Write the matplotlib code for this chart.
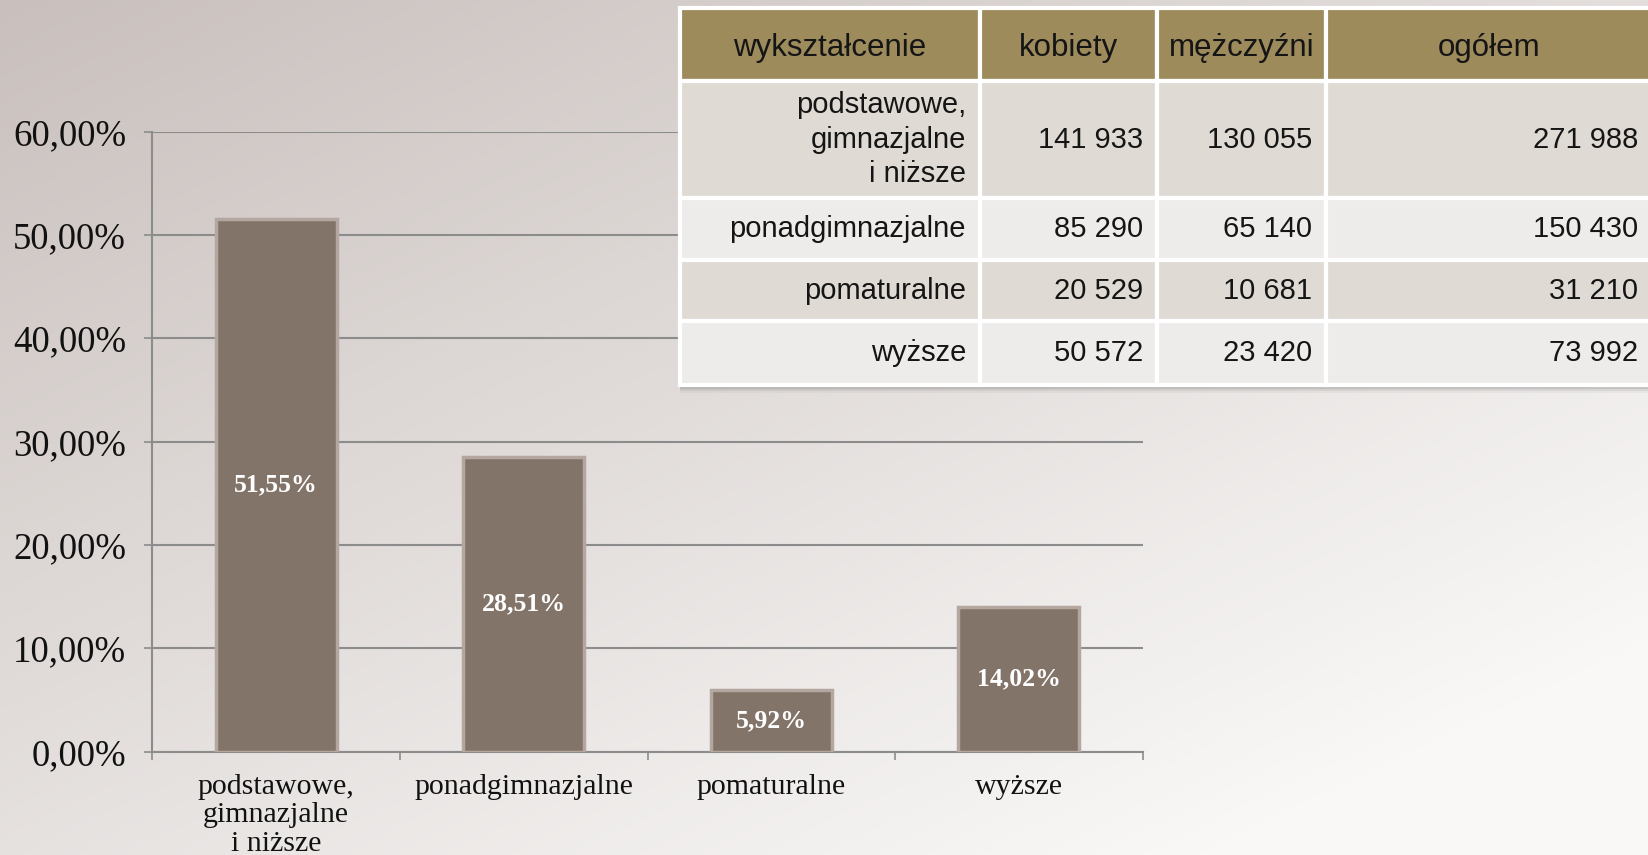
import numpy as np
import matplotlib
matplotlib.use("Agg")
import matplotlib.pyplot as plt
from matplotlib.patches import Rectangle

# chart data
categories = ["podstawowe,\ngimnazjalne\ni niższe", "ponadgimnazjalne", "pomaturalne", "wyższe"]
shares = [51.55, 28.51, 5.92, 14.02]
yticks = [0, 10, 20, 30, 40, 50, 60]

# table data
col_labels = ["wykształcenie", "kobiety", "mężczyźni", "ogółem"]
row_labels = ["podstawowe,\ngimnazjalne\ni niższe", "ponadgimnazjalne", "pomaturalne", "wyższe"]
women = ["141 933", "85 290", "20 529", "50 572"]
men = ["130 055", "65 140", "10 681", "23 420"]
total = ["271 988", "150 430", "31 210", "73 992"]

W, H = 1648, 855
fig = plt.figure(figsize=(W / 100, H / 100), dpi=100)

# background gradient (darker top-left -> light bottom-right)
bg = fig.add_axes([0, 0, 1, 1], zorder=-10)
gx, gy = np.meshgrid(np.linspace(0, 1, 300), np.linspace(0, 1, 200))
t = np.clip(0.55 * gx + 0.6 * gy, 0, 1)
c0 = np.array([201, 192, 189]) / 255
c1 = np.array([249, 248, 247]) / 255
img = c0[None, None, :] * (1 - t[..., None]) + c1[None, None, :] * t[..., None]
bg.imshow(img, aspect="auto", extent=[0, 1, 0, 1], origin="upper")
bg.axis("off")

# bar chart
serif = "Liberation Serif"
ax = fig.add_axes([152.4 / W, 103.5 / H, 990.2 / W, 619.8 / H])
ax.set_facecolor("none")
x = np.arange(len(categories))
bars = ax.bar(x, shares, width=0.49, color="#837469", edgecolor="#b4a79f",
              linewidth=2.5, zorder=3)
for b, v in zip(bars, shares):
    ax.text(b.get_x() + b.get_width() / 2, v / 2, f"{v:.2f}%".replace(".", ","),
            ha="center", va="center", color="white", fontsize=18.5,
            fontweight="bold", family=serif, zorder=4)

ax.set_xlim(-0.5, len(categories) - 0.5)
ax.set_ylim(0, 60)
ax.set_yticks(yticks)
ax.set_yticklabels([f"{v:.2f}%".replace(".", ",") for v in yticks],
                   family=serif, fontsize=26.5, color="#111111")
ax.yaxis.grid(True, color="#8c8c8c", linewidth=1.5, zorder=0)
ax.set_axisbelow(True)
ax.tick_params(axis="y", length=6, width=1.2, color="#8c8c8c", pad=13)

ax.set_xticks(x)
ax.set_xticklabels(categories, family=serif, fontsize=21.5, color="#111111",
                   linespacing=1.12, va="top")
ax.set_xticks(np.arange(len(categories) + 1) - 0.5, minor=True)
ax.tick_params(axis="x", which="major", length=0, pad=16)
ax.tick_params(axis="x", which="minor", length=6, width=1.2, color="#8c8c8c")
for s in ["top", "right"]:
    ax.spines[s].set_visible(False)
for s in ["left", "bottom"]:
    ax.spines[s].set_color("#8c8c8c")
    ax.spines[s].set_linewidth(1.5)

# table
tx0, tx1 = 680, 1652
ty_top, ty_bot = 8, 385
# shadow under the table
for i, a in enumerate([0.22, 0.16, 0.10, 0.05]):
    fig.patches.append(Rectangle((tx0 / W, (H - ty_bot - 2 - 2 * i) / H),
                                 (tx1 - tx0) / W, (4 + 2 * i) / H,
                                 transform=fig.transFigure, color="#555555",
                                 alpha=a, lw=0, zorder=5))

tax = fig.add_axes([tx0 / W, (H - ty_bot) / H, (tx1 - tx0) / W, (ty_bot - ty_top) / H],
                   zorder=10)
tax.axis("off")
cell_text = [[r, a, b, c] for r, a, b, c in zip(row_labels, women, men, total)]
tab = tax.table(cellText=cell_text, colLabels=col_labels, bbox=[0, 0, 1, 1],
                cellLoc="right")
tab.auto_set_font_size(False)
tab.set_fontsize(21)

col_w = [300, 177, 169, 326]
row_h = [73, 117, 62, 61, 64]
row_colors = ["#9d8b5c", "#dfdbd4", "#eeecea", "#dfdbd4", "#eeecea"]
for (r, c), cell in tab.get_celld().items():
    cell.set_width(col_w[c])
    cell.set_height(row_h[r])
    cell.set_facecolor(row_colors[r])
    cell.set_edgecolor("white")
    cell.set_linewidth(3)
    cell.PAD = 14 / col_w[c]
    txt = cell.get_text()
    txt.set_family("Liberation Sans")
    txt.set_color("#151515")
    if r == 0:
        txt.set_horizontalalignment("center")
        txt.set_fontsize(22.5)
        txt.set_verticalalignment("center_baseline")
    else:
        txt.set_multialignment("right")
        txt.set_linespacing(1.3)

fig.savefig("out.png", dpi=100)
